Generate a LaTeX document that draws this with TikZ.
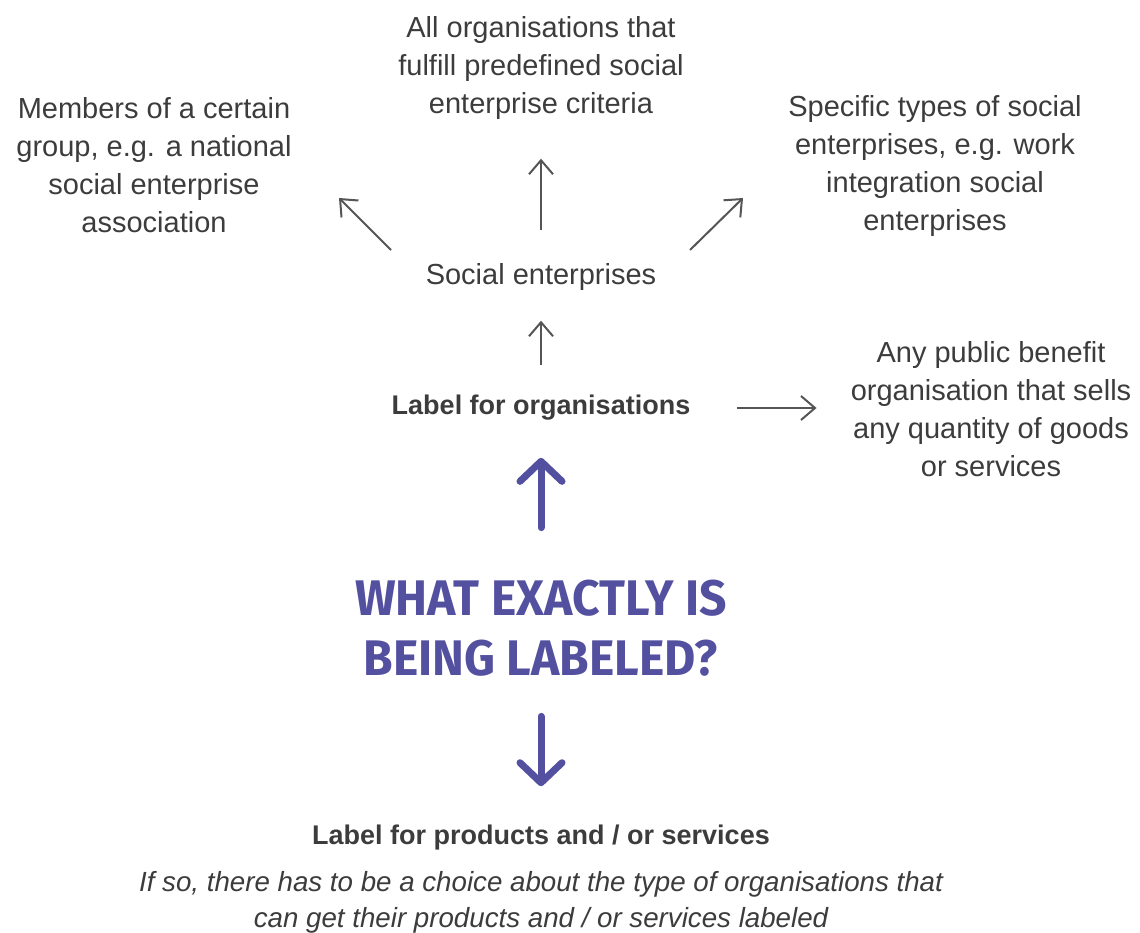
\documentclass[tikz,border=0pt]{standalone}
\usepackage{fontspec}
\setmainfont{Liberation Sans}
\newfontfamily\titlefont[FakeStretch=0.96]{Fira Sans}
\usetikzlibrary{arrows.meta}

\definecolor{txtgray}{RGB}{60,60,60}
\definecolor{arrgray}{RGB}{85,85,85}
\definecolor{labelpurple}{RGB}{84,80,160}

\tikzset{
  txt/.style={inner sep=0pt,align=center,text=txtgray,font=\fontsize{29}{38}\selectfont},
  boldtxt/.style={txt,font=\fontsize{27}{38}\selectfont\bfseries},
  arr/.style={draw=arrgray,line width=2pt,-{Straight Barb[length=14pt,width=24pt]}},
  bigarr/.style={draw=labelpurple,line width=7pt,line cap=round,-{Straight Barb[length=20pt,width=42pt,round]}}
}

\begin{document}
\begin{tikzpicture}[x=1pt,y=-1pt]
  \useasboundingbox (0,0) rectangle (1140,933);

  \draw (541,68) node[txt] (all) {All organisations that\\fulfill predefined social\\enterprise criteria};
  \draw (154,165) node[txt] (members) {Members of a certain\\group, e.g. a national\\social enterprise\\association};
  \draw (935,166) node[txt] (types) {Specific types of social\\enterprises, e.g. work\\integration social\\enterprises};
  \draw (541,277) node[txt] (social) {Social enterprises};
  \draw (541,408) node[boldtxt] (orgs) {Label for organisations};
  \draw (991,409) node[txt] (public) {Any public benefit\\organisation that sells\\any quantity of goods\\or services};

  \draw (541,628) node[inner sep=0pt,align=center,text=labelpurple,
    font=\titlefont\bfseries\fontsize{50}{60}\selectfont] (title) {WHAT EXACTLY IS\\BEING LABELED?};

  \draw (541,838) node[boldtxt] (products) {Label for products and / or services};
  \draw (541,902) node[txt,font=\fontsize{27.7}{36}\selectfont\itshape] (note) {If so, there has to be a choice about the type of organisations that\\can get their products and / or services labeled};

  % arrows out of social enterprises
  \coordinate (sl) at (391,250);
  \coordinate (ml) at (339,198);
  \coordinate (sr) at (690,250);
  \coordinate (tr) at (743,198);
  \draw[arr] (sl) -- (ml);
  \draw[arr] (sr) -- (tr);
  \draw[arr,shorten <=33pt,shorten >=39pt] (social) -- (all);

  \draw[arr,shorten <=30pt,shorten >=30pt] (orgs) -- (social);
  \draw[arr,shorten <=47pt,shorten >=34pt] (orgs.east) -- (orgs.east -| public.west);

  % purple arrows
  \draw[bigarr,shorten <=52pt,shorten >=37pt] (title) -- (orgs);
  \draw[bigarr,shorten <=40pt,shorten >=39pt] (title) -- (products);

\end{tikzpicture}
\end{document}
